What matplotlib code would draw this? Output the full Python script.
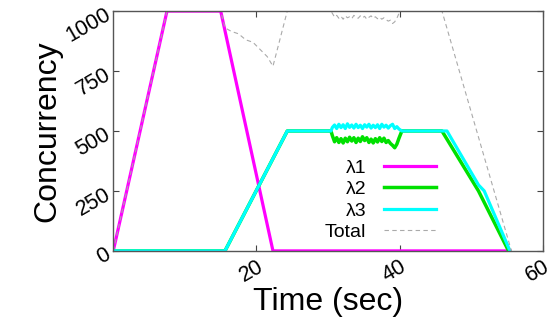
import matplotlib
matplotlib.use("Agg")
import matplotlib.pyplot as plt

plt.rcParams['font.family'] = ['Liberation Sans', 'DejaVu Sans']

# lambda1: ramps up, holds at 1000, ramps down
t1 = [0, 7.5, 15.0, 22.3, 55.4]
c1 = [0, 1000, 1000, 0, 0]

# noisy section time grid (sec)
tn = [30.6, 30.9, 31.2, 31.5, 31.8, 32.1, 32.4, 32.7, 33.0, 33.3, 33.6, 33.9,
      34.2, 34.5, 34.8, 35.1, 35.4, 35.7, 36.0, 36.3, 36.6, 36.9, 37.2, 37.5,
      37.8, 38.1, 38.4, 38.7, 39.0, 39.3, 39.6, 39.9]

c2_noise = [480, 455, 472, 452, 468, 450, 470, 455, 474, 458, 472, 452,
            470, 456, 476, 460, 472, 452, 466, 450, 468, 454, 472, 456,
            470, 452, 460, 448, 440, 430, 445, 470]
c3_noise = [515, 525, 510, 528, 514, 526, 510, 530, 515, 525, 512, 528,
            514, 524, 510, 526, 516, 528, 512, 524, 514, 526, 510, 528,
            516, 524, 512, 522, 528, 510, 518, 508]
tot_noise = [990, 975, 982, 970, 978, 966, 980, 972, 976, 968, 982, 974,
             970, 980, 972, 978, 966, 974, 980, 970, 976, 968, 974, 966,
             972, 964, 958, 962, 948, 955, 970, 990]

t2 = [0, 15.6, 24.3, 30.4] + tn + [40.3, 45.9, 51.0, 55.2]
c2 = [0, 0, 500, 500] + c2_noise + [500, 500, 250, 0]

t3 = [0, 15.6, 24.3, 30.4] + tn + [40.3, 46.6, 51.0, 51.8, 55.4]
c3 = [0, 0, 500, 500] + c3_noise + [500, 500, 275, 250, 0]

t_tot = [0, 7.5, 15.0, 15.6, 16.5, 17.5, 18.5, 19.5, 20.5, 21.5, 22.3, 24.3, 30.4] + tn + [40.3, 45.9, 55.6]
c_tot = [0, 1000, 1000, 930, 915, 905, 880, 870, 840, 810, 770, 1000, 1000] + tot_noise + [1000, 1000, 0]

fig = plt.figure(figsize=(5.58, 3.25), dpi=100)
ax = fig.add_axes([0.203, 0.228, 0.77, 0.738])

ax.plot(t1, c1, color='#ff00ff', lw=2.3, label='λ1')
ax.plot(t2, c2, color='#00e000', lw=2.5, label='λ2')
ax.plot(t3, c3, color='#00ffff', lw=2.3, label='λ3')
ax.plot(t_tot, c_tot, color='#aaaaaa', lw=0.8, ls=(0, (4, 3)), label='Total')

ax.set_xlim(0, 60)
ax.set_ylim(0, 1000)
ax.set_xticks([20, 40, 60])
ax.set_yticks([0, 250, 500, 750, 1000])

ax.tick_params(direction='in', length=4, top=True, right=True, labelsize=15.5,
               color='#444444', pad=4)
for lab in ax.get_xticklabels():
    lab.set_rotation(30)
    lab.set_ha('right')
    lab.set_rotation_mode('anchor')
for lab in ax.get_yticklabels():
    lab.set_rotation(30)
    lab.set_ha('right')
    lab.set_rotation_mode('anchor')

for sp in ax.spines.values():
    sp.set_color('#555555')
    sp.set_linewidth(1.0)

ax.set_xlabel('Time (sec)', fontsize=23, labelpad=0)
ax.set_ylabel('Concurrency', fontsize=23, labelpad=0)

ax.legend(loc='upper right', bbox_to_anchor=(0.77, 0.415), frameon=False,
          markerfirst=False, fontsize=14, handlelength=2.7, labelspacing=0.2,
          handletextpad=0.9, borderaxespad=0)

fig.savefig('out.png', dpi=100)
